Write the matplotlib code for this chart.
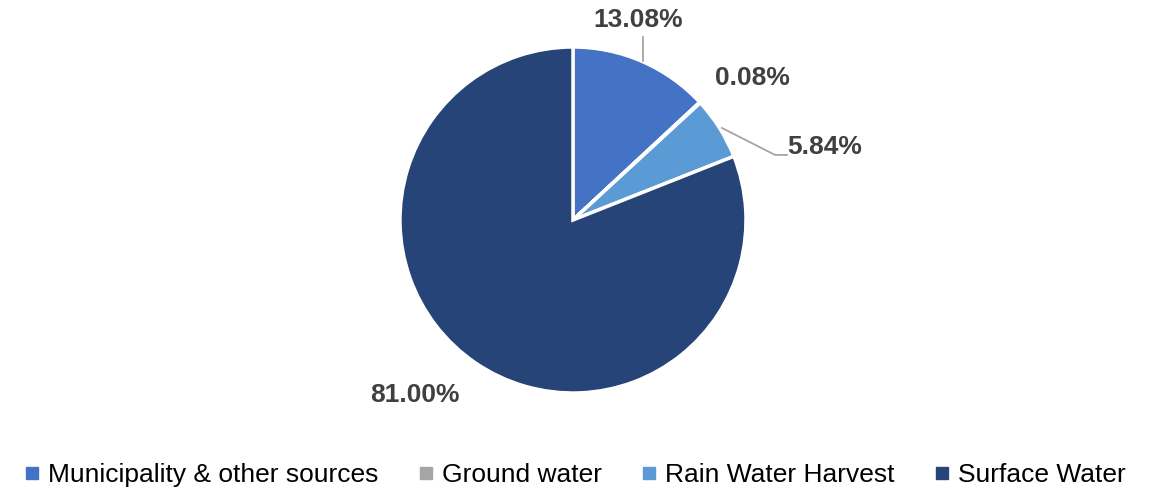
import matplotlib.pyplot as plt
from matplotlib.lines import Line2D

plt.rcParams['font.family'] = ['Liberation Sans', 'DejaVu Sans']

sources = ["Municipality & other sources", "Ground water", "Rain Water Harvest", "Surface Water"]
shares = [13.08, 0.08, 5.84, 81.00]
colors = ["#4472C4", "#A5A5A5", "#5B9BD5", "#264478"]

# label positions in pie units (radius = 1)
label_pos = [(0.376, 1.158), (1.035, 0.821), (1.457, 0.422), (-0.913, -1.012)]

fig = plt.figure(figsize=(11.5, 4.92), dpi=100)
ax = fig.add_axes([0.3478, 0.2012, 0.3009, 0.7033])

wedges, _ = ax.pie(shares, colors=colors, startangle=90, counterclock=False,
                   radius=1, wedgeprops=dict(edgecolor="white", linewidth=2.5))
ax.set_xlim(-1, 1)
ax.set_ylim(-1, 1)
ax.set_aspect("auto")
ax.axis("off")

for val, (x, y) in zip(shares, label_pos):
    ax.text(x, y, f"{val:.2f}%", ha="center", va="center", fontsize=19,
            fontweight="bold", color="#404040", clip_on=False)

# leader lines
ax.plot([0.405, 0.405], [0.92, 1.06], color="#A5A5A5", lw=1.3, clip_on=False)
ax.plot([0.861, 1.168, 1.237], [0.532, 0.376, 0.376], color="#A5A5A5", lw=1.3, clip_on=False)

handles = [Line2D([0], [0], marker="s", linestyle="none", markersize=9,
                  markerfacecolor=c, markeredgecolor=c) for c in colors]
fig.legend(handles, sources, loc="lower center", bbox_to_anchor=(0.5, -0.038), ncol=4,
           frameon=False, fontsize=19, handlelength=0.6, handletextpad=0.3,
           columnspacing=1.5, labelcolor="#000000")

fig.savefig("out.png", dpi=100)
